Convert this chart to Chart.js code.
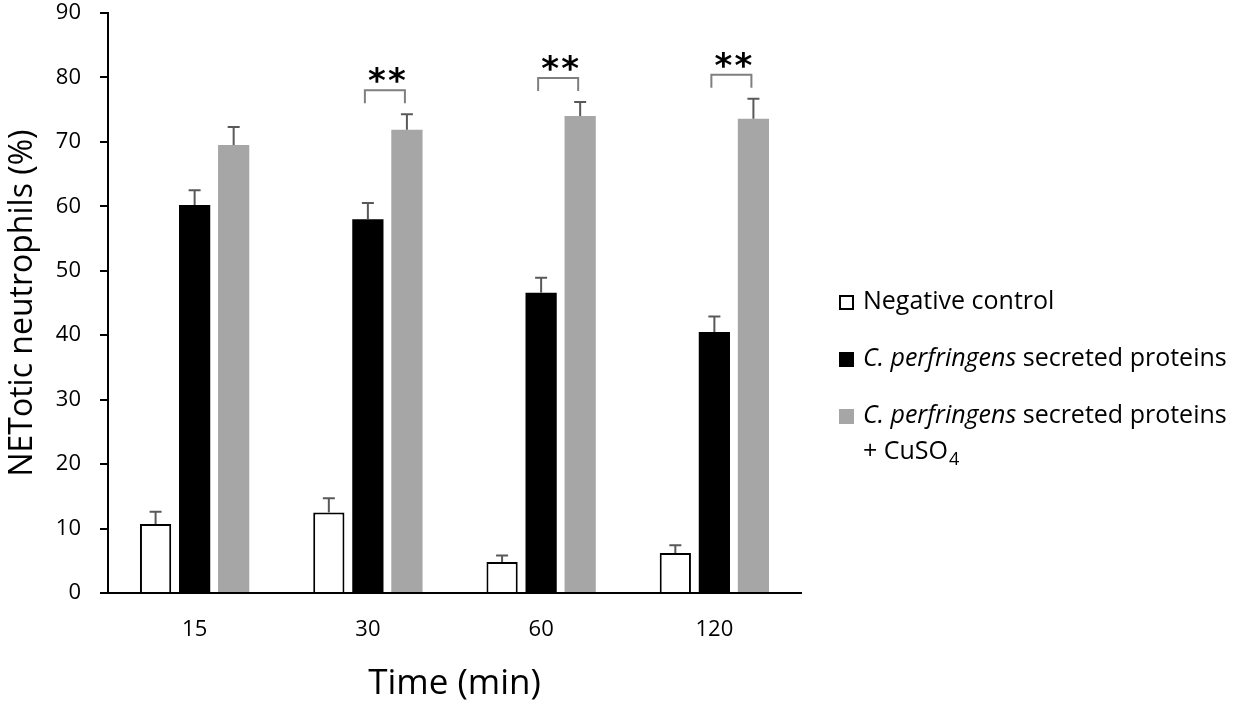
<!DOCTYPE html>
<html>
<head>
<meta charset="utf-8">
<script src="https://cdn.jsdelivr.net/npm/chart.js@4.4.1/dist/chart.umd.min.js"></script>
<style>
html, body { margin: 0; padding: 0; background: #fff; }
#wrap { width: 1236px; height: 705px; }
</style>
</head>
<body>
<div id="wrap"><canvas id="netChart" width="1236" height="705"></canvas></div>
<script>
// values (% NETotic neutrophils, mean and upper SD)
const timePoints = ["15", "30", "60", "120"];
const negControl = [10.7, 12.5, 4.8, 6.2];
const negControlErr = [1.9, 2.2, 1.0, 1.2];
const secreted = [60.2, 58.0, 46.6, 40.5];
const secretedErr = [2.3, 2.5, 2.3, 2.4];
const secretedCu = [69.5, 71.9, 74.0, 73.6];
const secretedCuErr = [2.8, 2.4, 2.2, 3.1];
const significant = ["30", "60", "120"];   // ** secreted vs secreted + CuSO4
const yTitle = "NETotic neutrophils (%)";

const FONT = "'Open Sans', 'Noto Sans', sans-serif";
const GREY = "#a6a6a6";
const ERR_COLOR = "#595959";

const errorBars = {
    id: "errorBars",
    afterDatasetsDraw(chart) {
        const ctx = chart.ctx;
        const y = chart.scales.y;
        ctx.save();
        ctx.strokeStyle = ERR_COLOR;
        ctx.lineWidth = 2;
        chart.data.datasets.forEach((ds, i) => {
            chart.getDatasetMeta(i).data.forEach((bar, j) => {
                const top = y.getPixelForValue(ds.data[j] + ds.errors[j]);
                ctx.beginPath();
                ctx.moveTo(bar.x, bar.y);
                ctx.lineTo(bar.x, top);
                ctx.moveTo(bar.x - 6, top);
                ctx.lineTo(bar.x + 6, top);
                ctx.stroke();
            });
        });
        ctx.restore();
    }
};

function drawCentered(ctx, text, x, cy) {
    const m = ctx.measureText(text);
    ctx.fillText(text, x, cy + (m.actualBoundingBoxAscent - m.actualBoundingBoxDescent) / 2);
}

const sigBrackets = {
    id: "sigBrackets",
    afterDatasetsDraw(chart) {
        const ctx = chart.ctx;
        const y = chart.scales.y;
        const black = chart.getDatasetMeta(1).data;
        const grey = chart.getDatasetMeta(2).data;
        ctx.save();
        significant.forEach(label => {
            const j = timePoints.indexOf(label);
            const capTop = Math.max(secreted[j] + secretedErr[j], secretedCu[j] + secretedCuErr[j]);
            const yLine = y.getPixelForValue(capTop + 3.7);
            const yLeg = y.getPixelForValue(capTop + 1.7);
            const x1 = black[j].x - 3;
            const x2 = grey[j].x - 2;
            ctx.strokeStyle = "#7f7f7f";
            ctx.lineWidth = 2;
            ctx.beginPath();
            ctx.moveTo(x1, yLeg);
            ctx.lineTo(x1, yLine);
            ctx.lineTo(x2, yLine);
            ctx.lineTo(x2, yLeg);
            ctx.stroke();
            ctx.fillStyle = "#000";
            ctx.font = "bold 34px 'DejaVu Sans'";
            ctx.textAlign = "center";
            const cx = (x1 + x2) / 2 + 2;
            drawCentered(ctx, "*", cx - 10, yLine - 15);
            drawCentered(ctx, "*", cx + 10, yLine - 15);
        });
        ctx.restore();
    }
};

// y title drawn by hand so it sits where the original has it
const yAxisTitle = {
    id: "yAxisTitle",
    afterDraw(chart) {
        const ctx = chart.ctx;
        const y = chart.scales.y;
        ctx.save();
        ctx.translate(32, (y.top + y.bottom) / 2);
        ctx.rotate(-Math.PI / 2);
        ctx.font = "32px " + FONT;
        ctx.fillStyle = "#000";
        ctx.textAlign = "center";
        ctx.textBaseline = "alphabetic";
        ctx.fillText(yTitle, 0, 0);
        ctx.restore();
    }
};

const legendRows = [
    { fill: "#ffffff", border: "#000000", lines: [[["Negative control", false]]] },
    { fill: "#000000", border: null, lines: [[["C. perfringens", true], [" secreted proteins", false]]] },
    { fill: GREY, border: null, lines: [[["C. perfringens", true], [" secreted proteins", false]], [["+ CuSO", false], ["4", "sub"]]] }
];

const sideLegend = {
    id: "sideLegend",
    afterDraw(chart) {
        const ctx = chart.ctx;
        const size = 25;
        const rowY = [302, 359, 416];
        ctx.save();
        ctx.textBaseline = "middle";
        ctx.textAlign = "left";
        legendRows.forEach((row, i) => {
            const cy = rowY[i];
            ctx.fillStyle = row.fill;
            ctx.fillRect(839, cy - 7, 15, 15);
            if (row.border) {
                ctx.strokeStyle = row.border;
                ctx.lineWidth = 2;
                ctx.strokeRect(840, cy - 6, 13, 13);
            }
            ctx.fillStyle = "#000";
            row.lines.forEach((segs, k) => {
                let x = 863;
                const ly = cy + k * 36;
                segs.forEach(([text, style]) => {
                    if (style === "sub") {
                        ctx.font = Math.round(size * 0.7) + "px " + FONT;
                        ctx.fillText(text, x + 1, ly + 8);
                    } else {
                        ctx.font = (style ? "italic " : "") + size + "px " + FONT;
                        ctx.fillText(text, x, ly);
                    }
                    x += ctx.measureText(text).width;
                });
            });
        });
        ctx.restore();
    }
};

new Chart(document.getElementById("netChart"), {
    type: "bar",
    data: {
        labels: timePoints,
        datasets: [
            { label: "Negative control", data: negControl, errors: negControlErr,
              backgroundColor: "#ffffff", borderColor: "#000000", borderWidth: 2 },
            { label: "C. perfringens secreted proteins", data: secreted, errors: secretedErr,
              backgroundColor: "#000000", borderWidth: 0 },
            { label: "C. perfringens secreted proteins + CuSO4", data: secretedCu, errors: secretedCuErr,
              backgroundColor: GREY, borderWidth: 0 }
        ]
    },
    options: {
        responsive: false,
        animation: false,
        devicePixelRatio: 1,
        layout: { padding: { left: 0, right: 435, top: 13, bottom: 0 } },
        categoryPercentage: 0.676,
        barPercentage: 0.8,
        plugins: { legend: { display: false }, tooltip: { enabled: false } },
        scales: {
            x: {
                grid: { display: false, drawTicks: false },
                border: { color: "#000", width: 2 },
                ticks: { color: "#000", font: { family: FONT, size: 22 }, padding: 24 },
                title: { display: true, text: "Time (min)", color: "#000",
                         font: { family: FONT, size: 35 }, padding: { top: 0, bottom: 0 } },
                afterFit: s => { s.height = 112; s.paddingLeft = 0; s.paddingRight = 0; }
            },
            y: {
                min: 0, max: 90,
                grid: { drawOnChartArea: false, color: "#000", lineWidth: 2, tickLength: 8 },
                border: { color: "#000", width: 2 },
                ticks: { stepSize: 10, color: "#000", font: { family: FONT, size: 22 }, padding: 19 },
                afterFit: s => { s.width = 108; s.paddingTop = 0; s.paddingBottom = 0; }
            }
        }
    },
    plugins: [errorBars, sigBrackets, yAxisTitle, sideLegend]
});
</script>
</body>
</html>
